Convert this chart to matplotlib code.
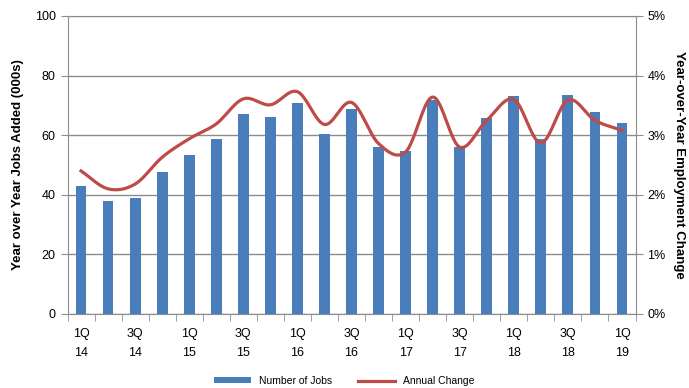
import numpy as np
from matplotlib import pyplot as plt
from matplotlib.ticker import FuncFormatter

plt.rcParams['font.family'] = ['Liberation Sans', 'DejaVu Sans']

quarters = ['1Q\n14', '2Q\n14', '3Q\n14', '4Q\n14', '1Q\n15', '2Q\n15', '3Q\n15', '4Q\n15',
            '1Q\n16', '2Q\n16', '3Q\n16', '4Q\n16', '1Q\n17', '2Q\n17', '3Q\n17', '4Q\n17',
            '1Q\n18', '2Q\n18', '3Q\n18', '4Q\n18', '1Q\n19']
jobs = [43.1, 37.9, 38.9, 47.8, 53.5, 58.8, 67.2, 66.1, 70.8, 60.4, 68.8,
        56.2, 54.6, 71.9, 56.2, 65.7, 73.0, 58.8, 73.4, 67.7, 64.0]
annual_change = [2.40, 2.10, 2.18, 2.63, 2.94, 3.19, 3.61, 3.51, 3.73, 3.18, 3.55,
                 2.86, 2.72, 3.64, 2.80, 3.25, 3.60, 2.87, 3.59, 3.25, 3.08]

bar_color = '#4A7EBB'
line_color = '#BE4B48'
grid_color = '#8C8C8C'


def smooth(x, y, n=20):
    # catmull-rom curve through the points, like the smoothed line in excel
    x = np.asarray(x, float)
    y = np.asarray(y, float)
    px = np.concatenate([[2 * x[0] - x[1]], x, [2 * x[-1] - x[-2]]])
    py = np.concatenate([[2 * y[0] - y[1]], y, [2 * y[-1] - y[-2]]])
    xs, ys = [], []
    for i in range(1, len(px) - 2):
        t = np.linspace(0, 1, n, endpoint=False)
        for p, out in ((px, xs), (py, ys)):
            p0, p1, p2, p3 = p[i - 1], p[i], p[i + 1], p[i + 2]
            out.extend(0.5 * (2 * p1 + (-p0 + p2) * t
                              + (2 * p0 - 5 * p1 + 4 * p2 - p3) * t ** 2
                              + (-p0 + 3 * p1 - 3 * p2 + p3) * t ** 3))
    xs.append(x[-1])
    ys.append(y[-1])
    return np.array(xs), np.array(ys)


fig = plt.figure(figsize=(6.89, 3.88), dpi=100)
ax = fig.add_axes([67.5 / 689, 1 - 314 / 388, 568 / 689, 298 / 388])
ax2 = ax.twinx()

xpos = np.arange(len(quarters))
ax.bar(xpos, jobs, width=0.4, color=bar_color, label='Number of Jobs', zorder=3)
ax.set_xlim(-0.5, len(quarters) - 0.5)
ax.set_ylim(0, 100)
ax.set_yticks(np.arange(0, 101, 20))
ax.yaxis.grid(True, color=grid_color, linewidth=1)
ax.set_axisbelow(True)

ax.set_xticks(xpos[::2])
ax.set_xticklabels(quarters[::2], fontsize=9, linespacing=1.8)
ax.set_xticks(np.arange(-0.5, len(quarters), 1), minor=True)
ax.tick_params(axis='x', which='major', length=0, pad=10)
ax.tick_params(axis='x', which='minor', length=5, color=grid_color, direction='out')
ax.tick_params(axis='y', length=5, color=grid_color, labelsize=9)
for s in ax.spines.values():
    s.set_color(grid_color)
ax.spines['right'].set_visible(False)
ax.set_ylabel('Year over Year Jobs Added (000s)', fontsize=9.5, fontweight='bold', labelpad=8)

sx, sy = smooth(xpos, annual_change)
ax2.plot(sx, sy, color=line_color, linewidth=2.3, label='Annual Change', zorder=4)
ax2.set_ylim(0, 5)
ax2.set_yticks(np.arange(0, 6, 1))
ax2.yaxis.set_major_formatter(FuncFormatter(lambda v, _: f'{v:.0f}%'))
ax2.tick_params(axis='y', length=5, color=grid_color, labelsize=9)
for s in ax2.spines.values():
    s.set_visible(False)
ax2.spines['right'].set_visible(True)
ax2.spines['right'].set_color(grid_color)
ax2.set_ylabel('Year-over-Year Employment Change', fontsize=9.5, fontweight='bold',
               rotation=270, labelpad=14)

h1, l1 = ax.get_legend_handles_labels()
h2, l2 = ax2.get_legend_handles_labels()
fig.legend(h1 + h2, l1 + l2, loc='center', bbox_to_anchor=(0.5, 1 - 381 / 388),
           ncol=2, frameon=False, fontsize=7.5, handlelength=3.5, handleheight=0.5,
           columnspacing=2.5)

plt.savefig('out.png', dpi=100)
